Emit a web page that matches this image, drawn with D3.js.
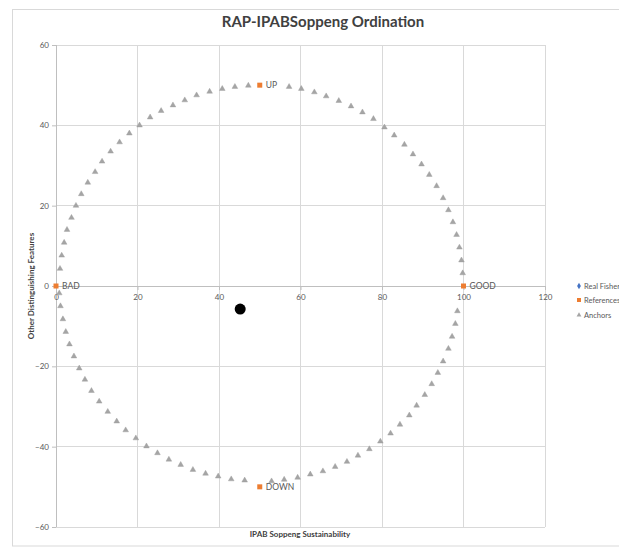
<!DOCTYPE html>
<html><head><meta charset="utf-8">
<script src="https://cdn.jsdelivr.net/npm/d3@7"></script>
<style>body{margin:0;background:#fff;} svg{display:block;}</style>
</head><body>
<script>
const title = "RAP-IPABSoppeng Ordination";
const xTitle = "IPAB Soppeng Sustainability";
const yTitle = "Other Distinguishing Features";
const xTicks = [0,20,40,60,80,100,120];
const yTicks = [-60,-40,-20,0,20,40,60];
const legendLabels = ["Real Fisheries","References","Anchors"];

const realFisheries = [[45.2,-5.75]];
const references = [
  {x:0,y:0,label:"BAD"},
  {x:100,y:0,label:"GOOD"},
  {x:50,y:50,label:"UP"},
  {x:50,y:-50,label:"DOWN"}
];
const anchorsX = [0.98,1.4,2.0,2.7,3.8,4.9,6.2,7.8,9.6,11.3,13.4,15.6,18.0,20.5,23.1,25.8,28.7,31.6,34.5,37.7,40.8,43.9,47.2,
  57.2,60.2,63.4,66.3,69.4,72.4,75.2,77.9,80.6,83.0,85.5,87.6,89.7,91.6,93.4,95.0,96.3,97.4,98.3,99.0,99.5,99.8,
  0.8,1.1,1.7,2.4,3.3,4.4,5.7,7.1,8.7,10.6,12.7,14.9,17.1,19.6,22.2,24.9,27.7,30.6,33.6,36.7,39.8,43.0,46.3,
  52.9,56.0,59.3,62.4,65.5,68.5,71.4,74.1,76.9,79.6,82.1,84.4,86.7,88.5,90.5,92.2,93.7,95.0,96.3,97.2,98.0,98.5];
const anchorsY = [4.3,7.6,10.8,14.0,17.0,20.0,22.9,25.75,28.4,31.0,33.5,35.8,38.0,40.0,42.0,43.6,45.0,46.25,47.5,48.4,49.1,49.6,49.9,
  49.6,49.1,48.25,47.25,46.1,44.75,43.25,41.6,39.5,37.5,35.2,32.8,30.3,27.7,24.9,21.9,18.9,15.9,12.75,9.6,6.4,3.2,
  -1.8,-5.0,-8.25,-11.4,-14.5,-17.5,-20.5,-23.3,-26.1,-28.75,-31.3,-33.7,-35.9,-37.9,-39.9,-41.6,-43.2,-44.5,-45.75,-46.7,-47.4,-48.1,-48.4,
  -48.6,-48.2,-47.7,-46.9,-46.1,-45.0,-43.75,-42.2,-40.6,-38.7,-36.7,-34.5,-32.2,-29.75,-27.1,-24.4,-21.6,-18.75,-15.6,-12.6,-9.4,-6.25];

const W = 619, H = 548;
const font = "Lato, 'Open Sans', sans-serif";
const svg = d3.select("body").append("svg").attr("width", W).attr("height", H);

svg.append("rect").attr("x",12.5).attr("y",9.5).attr("width",640).attr("height",536.5)
  .attr("fill","#fff").attr("stroke","#d9d9d9");

const x = d3.scaleLinear().domain([0,120]).range([56,545]);
const y = d3.scaleLinear().domain([-60,60]).range([527,45]);

// grid
svg.append("g").selectAll("line").data(xTicks).join("line")
  .attr("x1",d=>x(d)).attr("x2",d=>x(d)).attr("y1",y(60)).attr("y2",y(-60))
  .attr("stroke","#d9d9d9").attr("stroke-width",1).attr("shape-rendering","crispEdges");
svg.append("g").selectAll("line").data(yTicks).join("line")
  .attr("x1",x(0)).attr("x2",x(120)).attr("y1",d=>y(d)).attr("y2",d=>y(d))
  .attr("stroke","#d9d9d9").attr("stroke-width",1).attr("shape-rendering","crispEdges");

svg.append("line").attr("x1",x(0)).attr("x2",x(0)).attr("y1",y(60)).attr("y2",y(-60))
  .attr("stroke","#bfbfbf").attr("shape-rendering","crispEdges");
svg.append("line").attr("x1",x(0)).attr("x2",x(120)).attr("y1",y(0)).attr("y2",y(0))
  .attr("stroke","#bfbfbf").attr("shape-rendering","crispEdges");

const yAxis = d3.axisLeft(y).tickValues(yTicks).tickSize(4).tickPadding(3);
const gy = svg.append("g").attr("transform",`translate(${x(0)},0)`).call(yAxis);
gy.select(".domain").remove();
gy.selectAll("line").attr("stroke","#bfbfbf");
gy.selectAll("text").attr("font-family",font).attr("font-size",8).attr("fill","#595959");

const xAxis = d3.axisBottom(x).tickValues(xTicks).tickSize(4).tickPadding(4);
const gx = svg.append("g").attr("transform",`translate(0,${y(0)})`).call(xAxis);
gx.select(".domain").remove();
gx.selectAll("line").attr("stroke","#bfbfbf");
gx.selectAll("text").attr("font-family",font).attr("font-size",8).attr("fill","#595959");

const tri = d3.symbol().type(d3.symbolTriangle).size(14);
svg.append("g").selectAll("path").data(anchorsX.map((d,i)=>[d,anchorsY[i]])).join("path")
  .attr("d",tri).attr("transform",d=>`translate(${x(d[0])},${y(d[1])})`)
  .attr("fill","#a5a5a5").attr("stroke","#999").attr("stroke-width",0.4);

svg.append("g").selectAll("rect").data(references).join("rect")
  .attr("x",d=>x(d.x)-2.5).attr("y",d=>y(d.y)-2.5).attr("width",5).attr("height",5)
  .attr("fill","#ed7d31");
svg.append("g").selectAll("text").data(references).join("text")
  .attr("x",d=>x(d.x)+6).attr("y",d=>y(d.y)+3)
  .attr("font-family",font).attr("font-size",8.5).attr("fill","#595959").text(d=>d.label);

svg.append("g").selectAll("circle").data(realFisheries).join("circle")
  .attr("cx",d=>x(d[0])).attr("cy",d=>y(d[1])).attr("r",5.5).attr("fill","#000");

svg.append("text").attr("x",323).attr("y",27).attr("text-anchor","middle")
  .attr("font-family",font).attr("font-weight","bold").attr("font-size",15).attr("fill","#404040").text(title);
svg.append("text").attr("x",300).attr("y",537).attr("text-anchor","middle")
  .attr("font-family",font).attr("font-weight","bold").attr("font-size",8).attr("fill","#404040").text(xTitle);
svg.append("text").attr("transform",`translate(34,286) rotate(-90)`).attr("text-anchor","middle")
  .attr("font-family",font).attr("font-weight","bold").attr("font-size",8).attr("fill","#404040").text(yTitle);

const lg = svg.append("g").attr("transform","translate(579,0)");
const ly = [286,300,315];
lg.append("path").attr("d",d3.symbol().type(d3.symbolDiamond).size(12)).attr("transform",`translate(0,${ly[0]})`).attr("fill","#4472c4");
lg.append("rect").attr("x",-2).attr("y",ly[1]-2).attr("width",4).attr("height",4).attr("fill","#ed7d31");
lg.append("path").attr("d",d3.symbol().type(d3.symbolTriangle).size(10)).attr("transform",`translate(0,${ly[2]})`).attr("fill","#a5a5a5");
lg.selectAll("text").data(legendLabels).join("text")
  .attr("x",5).attr("y",(d,i)=>ly[i]+3).attr("font-family",font).attr("font-size",7.5).attr("fill","#595959").text(d=>d);
</script>
</body></html>
